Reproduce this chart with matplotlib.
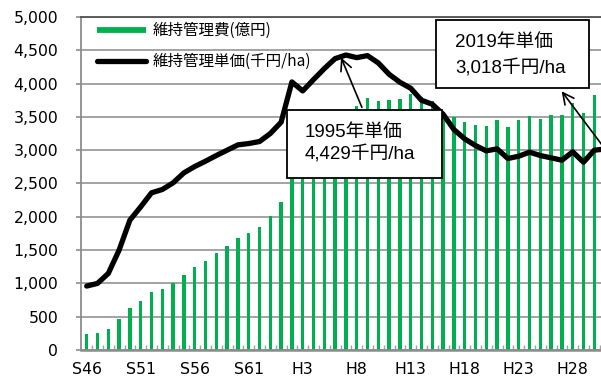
import matplotlib
matplotlib.use('Agg')
import matplotlib.pyplot as plt
from matplotlib.lines import Line2D
from matplotlib.patches import Rectangle, FancyArrowPatch
import numpy as np

# ---- data ----
years = list(range(1971, 2020))
cost = [235, 260, 315, 460, 630, 735, 865, 915, 1000, 1125,
        1240, 1335, 1450, 1565, 1685, 1760, 1840, 2005, 2220,
        2650, 2900, 3100, 3250, 3400, 3500,
        3660, 3790, 3740, 3750, 3775,
        3850, 3800, 3740, 3580, 3505, 3420, 3380, 3370, 3450, 3345,
        3460, 3515, 3475, 3525, 3525, 3710, 3560, 3830]
unit_price = [960, 1000, 1150, 1500, 1950, 2150, 2360, 2410, 2510, 2660,
              2755, 2835, 2920, 3000, 3080, 3100, 3130, 3250, 3420, 4025,
              3890, 4060, 4225, 4375, 4429, 4390, 4420, 4310, 4140, 4020,
              3930, 3750, 3690, 3540, 3310, 3170, 3070, 2990, 3020, 2875,
              2910, 2970, 2920, 2885, 2850, 2975, 2820, 3000, 3018]
tick_years = [1971, 1976, 1981, 1986, 1991, 1996, 2001, 2006, 2011, 2016]
tick_labels = ['S46', 'S51', 'S56', 'S61', 'H3', 'H8', 'H13', 'H18', 'H23', 'H28']
y_ticks = [0, 500, 1000, 1500, 2000, 2500, 3000, 3500, 4000, 4500, 5000]
series_names = ['維持管理費(億円)', '維持管理単価(千円/ha)']
note1 = ['1995年単価', '4,429千円/ha']
note2 = ['2019年単価', '3,018千円/ha']

W, H = 601, 378
GREEN = '#00B050'
GRID = '#9C9C9C'

def fx(x):
    return x / W

def fy(y):
    return 1 - y / H

fig = plt.figure(figsize=(W / 100, H / 100), dpi=100)
ax = fig.add_axes([fx(81.3), 1 - 350 / H, (610.5 - 81.3) / W, 333 / H])

x = np.arange(len(years))
ax.bar(x[:len(cost)], cost, width=0.31, color=GREEN, zorder=2)
ax.plot(x, unit_price, color='black', lw=3.8, solid_joinstyle='round',
        solid_capstyle='round', zorder=3)

ax.set_xlim(-0.5, len(years) - 0.5)
ax.set_ylim(0, 5000)
ax.set_yticks(y_ticks)
ax.set_yticklabels([f'{v:,}' for v in y_ticks])
ax.set_xticks([years.index(yv) for yv in tick_years])
ax.set_xticklabels(tick_labels)
ax.set_xticks(x[:-1] + 0.5, minor=True)

ax.grid(axis='y', color=GRID, lw=1.3, zorder=0)
ax.set_axisbelow(True)
for s in ['left', 'bottom']:
    ax.spines[s].set_color('#8C8C8C')
ax.spines['left'].set_linewidth(1.3)
ax.spines['bottom'].set_linewidth(1.8)
ax.spines['top'].set_color('#505050')
ax.spines['top'].set_linewidth(1.3)
ax.spines['right'].set_visible(False)

ax.tick_params(axis='y', direction='out', length=3.6, width=1.2, color='#8C8C8C',
               pad=13, labelsize=11.3)
ax.tick_params(axis='x', which='major', length=0, pad=8.5, labelsize=11.3)
ax.tick_params(axis='x', which='minor', direction='in', length=3.5, width=1.0,
               color='#A0A0A0')

# legend
handles = [Line2D([0], [0], color=GREEN, lw=4.2, solid_capstyle='butt'),
           Line2D([0], [0], color='black', lw=3.8, solid_capstyle='round')]
leg = ax.legend(handles, series_names, loc='upper left',
                bbox_to_anchor=(0.029, 0.985), frameon=False,
                prop={'family': ['Noto Sans CJK JP'], 'size': 11.2},
                handlelength=3.2, handletextpad=0.4, labelspacing=0.9,
                borderpad=0, borderaxespad=0)

# annotation boxes
tfont = {'family': ['Liberation Sans', 'Noto Sans CJK JP'], 'size': 13.5}

def box(x0, y0, x1, y1, lines, tx, ty):
    fig.patches.append(Rectangle((fx(x0), fy(y1)), fx(x1) - fx(x0), fy(y0) - fy(y1),
                                 transform=fig.transFigure, facecolor='white',
                                 edgecolor='black', lw=1.3, zorder=5))
    for t, yy in zip(lines, ty):
        fig.text(fx(tx), fy(yy), t, ha='left', va='center', fontdict=tfont, zorder=6)

box(287, 110, 442, 178, note1, 305, [132.5, 155])
box(436, 20, 589, 88, note2, 455, [42.5, 68])

arr1 = FancyArrowPatch((fx(363), fy(110)), (fx(340), fy(55)), transform=fig.transFigure,
                       arrowstyle='->,head_length=0.8,head_width=0.4', mutation_scale=10,
                       color='black', lw=1.2, zorder=6)
arr2 = FancyArrowPatch((fx(605), fy(149)), (fx(560), fy(89)), transform=fig.transFigure,
                       arrowstyle='->,head_length=0.8,head_width=0.4', mutation_scale=10,
                       color='black', lw=1.2, zorder=6)
fig.patches.append(arr1)
fig.patches.append(arr2)

fig.savefig('out.png', dpi=100)
